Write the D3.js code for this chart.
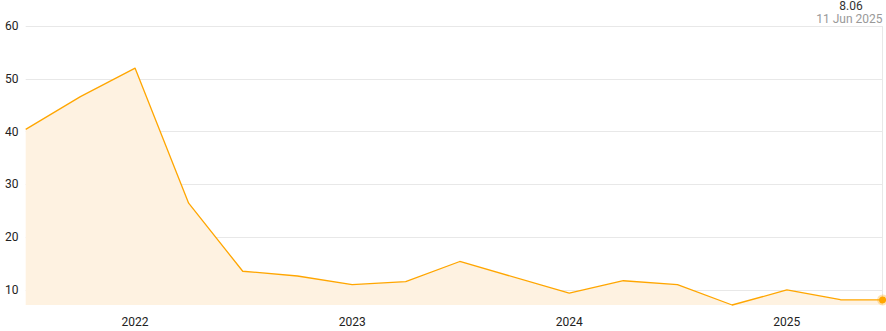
<!DOCTYPE html>
<html>
<head>
<meta charset="utf-8">
<script src="https://cdn.jsdelivr.net/npm/d3@7"></script>
<style>
  body { margin: 0; background: #fff; }
  text { font-family: Roboto, "Noto Sans", sans-serif; }
</style>
</head>
<body>
<script>
const width = 886;
const height = 331;

const dates = [
    "2021-07-01", "2021-10-01", "2022-01-01", "2022-04-01", "2022-07-01",
    "2022-10-01", "2023-01-01", "2023-04-01", "2023-07-01", "2024-01-01",
    "2024-04-01", "2024-07-01", "2024-10-01", "2025-01-01", "2025-04-01",
    "2025-06-11"
];
const values = [40.4, 46.6, 52.0, 26.4, 13.5, 12.6, 10.95, 11.55, 15.35, 9.35,
    11.7, 10.95, 7.1, 9.95, 8.1, 8.06];
const yTicks = [10, 20, 30, 40, 50, 60];
const xTickYears = ["2022", "2023", "2024", "2025"];
const lastLabel = "11 Jun 2025";

const parse = d3.timeParse("%Y-%m-%d");
const data = dates.map((d, i) => ({ date: parse(d), value: values[i] }));

const margin = { top: 26, right: 3.4, bottom: 26, left: 25.7 };

const svg = d3.select("body").append("svg")
    .attr("width", width)
    .attr("height", height);

const x = d3.scaleTime()
    .domain(d3.extent(data, d => d.date))
    .range([margin.left, width - margin.right]);

const y = d3.scaleLinear()
    .domain([d3.min(values), 60])
    .range([height - margin.bottom, margin.top]);

// grid lines
svg.append("g")
    .selectAll("line")
    .data(yTicks)
    .enter()
    .append("line")
    .attr("x1", margin.left)
    .attr("x2", width - margin.right)
    .attr("y1", d => Math.round(y(d)) + 0.5)
    .attr("y2", d => Math.round(y(d)) + 0.5)
    .attr("stroke", "#e8e8e8");

svg.append("line")
    .attr("x1", Math.round(x.range()[1]) - 0.5)
    .attr("x2", Math.round(x.range()[1]) - 0.5)
    .attr("y1", y(60))
    .attr("y2", y.range()[0])
    .attr("stroke", "#e8e8e8");

// y labels
svg.append("g")
    .selectAll("text")
    .data(yTicks)
    .enter()
    .append("text")
    .attr("x", 18.5)
    .attr("y", d => y(d))
    .attr("dy", "0.35em")
    .attr("text-anchor", "end")
    .attr("font-size", 12)
    .attr("fill", "#222")
    .text(d => d);

// x labels
svg.append("g")
    .selectAll("text")
    .data(xTickYears)
    .enter()
    .append("text")
    .attr("x", d => x(parse(d + "-01-01")))
    .attr("y", 326)
    .attr("text-anchor", "middle")
    .attr("font-size", 12)
    .attr("fill", "#222")
    .text(d => d);

const area = d3.area()
    .x(d => x(d.date))
    .y0(y.range()[0])
    .y1(d => y(d.value));

const line = d3.line()
    .x(d => x(d.date))
    .y(d => y(d.value));

svg.append("path")
    .datum(data)
    .attr("d", area)
    .attr("fill", "#fef2e1");

svg.append("path")
    .datum(data)
    .attr("d", line)
    .attr("fill", "none")
    .attr("stroke", "#ffa600")
    .attr("stroke-width", 1.3)
    .attr("stroke-linejoin", "round");

// last point marker
const last = data[data.length - 1];
svg.append("circle")
    .attr("cx", x(last.date))
    .attr("cy", y(last.value))
    .attr("r", 5.5)
    .attr("fill", "#ffa600")
    .attr("fill-opacity", 0.3);
svg.append("circle")
    .attr("cx", x(last.date))
    .attr("cy", y(last.value))
    .attr("r", 3.5)
    .attr("fill", "#ffa600");

// value label at top right
svg.append("text")
    .attr("x", 851)
    .attr("y", 10)
    .attr("text-anchor", "middle")
    .attr("font-size", 12)
    .attr("fill", "#333")
    .text(last.value.toFixed(2));

svg.append("text")
    .attr("x", 882.5)
    .attr("y", 22.5)
    .attr("text-anchor", "end")
    .attr("font-size", 12)
    .attr("fill", "#999")
    .text(lastLabel);
</script>
</body>
</html>
